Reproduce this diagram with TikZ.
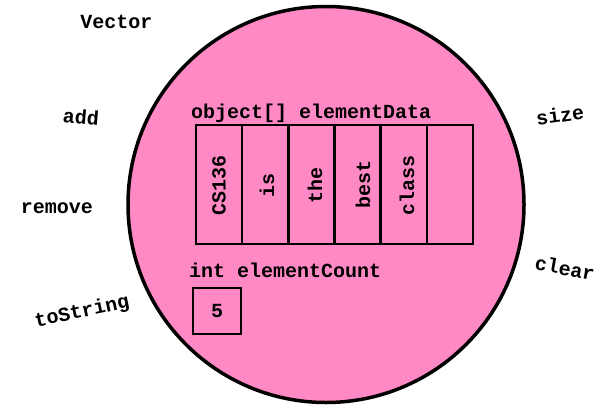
\documentclass[tikz,border=0pt]{standalone}
\usepackage{fontspec}
\setmonofont{Liberation Mono}
\definecolor{pinkfill}{RGB}{255,137,196}
\begin{document}
\begin{tikzpicture}[x=1pt,y=-1pt,
  lbl/.style={font=\ttfamily\bfseries\fontsize{20}{24}\selectfont, inner sep=0pt},
  cellbox/.style={draw, line width=2.5pt, minimum width=46.17pt, minimum height=119pt, inner sep=0pt},
  celltext/.style={lbl, rotate=90}]
\useasboundingbox (0,0) rectangle (601,407);
% object
\node[draw, line width=3.5pt, fill=pinkfill, circle, minimum size=396pt, inner sep=0pt] (obj) at (326,204.5) {};
% array cells
\foreach \i in {1,...,6} {
  \node[cellbox] (c\i) at ({196+46.17*(\i-0.5)},184.5) {};
}
\node[celltext] (t1) at (219,185.5) {CS136};
\node[celltext] (t2) at (267,185) {is};
\node[celltext] (t3) at (315,185) {the};
\node[celltext] (t4) at (363,184) {best};
\node[celltext] (t5) at (407,185) {class};
\node[lbl, anchor=base west] (arrname) at (191,118) {object[] elementData};
\node[lbl, anchor=base west] (cntname) at (189,277) {int elementCount};
\node[draw, line width=2.5pt, minimum width=48pt, minimum height=46pt, inner sep=0pt, lbl] (cnt) at (217,311) {5};
% method labels
\node[lbl] (vector) at (116.5,22) {Vector};
\node[lbl, rotate=-5] (add) at (81,117) {add};
\node[lbl] (remove) at (57,208) {remove};
\node[lbl, rotate=12] (tostring) at (82,312) {toString};
\node[lbl, rotate=8] (size) at (560,115) {size};
\node[lbl, rotate=-10] (clear) at (565,268) {clear};
\end{tikzpicture}
\end{document}
